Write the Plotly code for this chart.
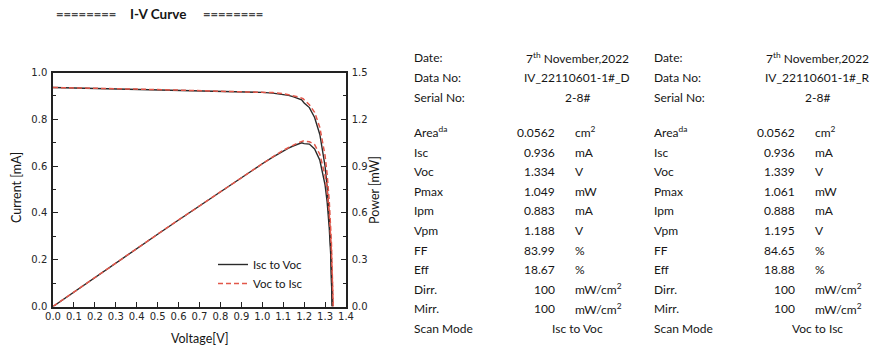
import plotly.graph_objects as go

W, H = 872, 347

# ---- measured data: forward scan (Isc -> Voc) ----
v_fwd = [0.0, 0.1, 0.2, 0.3, 0.4, 0.5, 0.6, 0.7, 0.8, 0.9, 1.0, 1.05, 1.1, 1.125,
         1.15, 1.175, 1.188, 1.2, 1.225, 1.25, 1.275, 1.3, 1.31, 1.32, 1.327, 1.334]
i_fwd = [0.936, 0.934, 0.932, 0.930, 0.928, 0.926, 0.924, 0.922, 0.920, 0.918, 0.915,
         0.912, 0.907, 0.902, 0.896, 0.888, 0.883, 0.870, 0.850, 0.808, 0.735, 0.600,
         0.510, 0.380, 0.250, 0.0]
p_fwd = [0.0, 0.0934, 0.1864, 0.279, 0.3712, 0.463, 0.5544, 0.6454, 0.736, 0.8262, 0.915,
         0.9576, 0.9977, 1.0148, 1.0304, 1.0434, 1.049, 1.044, 1.0413, 1.010, 0.9371,
         0.780, 0.6681, 0.5016, 0.3318, 0.0]

# ---- measured data: reverse scan (Voc -> Isc) ----
v_rev = [0.0, 0.1, 0.2, 0.3, 0.4, 0.5, 0.6, 0.7, 0.8, 0.9, 1.0, 1.05, 1.1, 1.125,
         1.15, 1.175, 1.195, 1.225, 1.25, 1.275, 1.3, 1.31, 1.32, 1.33, 1.339]
i_rev = [0.936, 0.935, 0.933, 0.931, 0.929, 0.927, 0.925, 0.923, 0.921, 0.919, 0.917,
         0.914, 0.910, 0.906, 0.901, 0.895, 0.888, 0.862, 0.830, 0.765, 0.645, 0.565,
         0.450, 0.280, 0.0]
p_rev = [0.0, 0.0935, 0.1866, 0.2793, 0.3716, 0.4635, 0.555, 0.6461, 0.7368, 0.8271,
         0.917, 0.9597, 1.001, 1.0193, 1.0362, 1.0516, 1.061, 1.056, 1.0375, 0.9754,
         0.8385, 0.7402, 0.594, 0.3724, 0.0]

series_names = ["Isc to Voc", "Voc to Isc"]

# ---- parameter tables ----
row_labels = ["Date:", "Data No:", "Serial No:", "Area<sup>da</sup>", "Isc", "Voc", "Pmax",
              "Ipm", "Vpm", "FF", "Eff", "Dirr.", "Mirr.", "Scan Mode"]
header_fwd = ["7<sup>th</sup> November,2022", "IV_22110601-1#_D", "2-8#"]
header_rev = ["7<sup>th</sup> November,2022", "IV_22110601-1#_R", "2-8#"]
values_fwd = ["0.0562", "0.936", "1.334", "1.049", "0.883", "1.188", "83.99", "18.67", "100", "100"]
values_rev = ["0.0562", "0.936", "1.339", "1.061", "0.888", "1.195", "84.65", "18.88", "100", "100"]
units = ["cm<sup>2</sup>", "mA", "V", "mW", "mA", "V", "%", "%", "mW/cm<sup>2</sup>", "mW/cm<sup>2</sup>"]
scan_modes = ["Isc to Voc", "Voc to Isc"]

BLACK = "#2a2a2a"
RED = "#e2574a"
TXT = "#161616"
LAB_FONT = "Lato"
TICK_FONT = dict(family="DejaVu Sans", size=10, color="#262626")

fig = go.Figure()

fig.add_trace(go.Scatter(x=v_fwd, y=i_fwd, mode="lines", name=series_names[0],
                         line=dict(color=BLACK, width=1.4)))
fig.add_trace(go.Scatter(x=v_fwd, y=p_fwd, mode="lines", name=series_names[0], yaxis="y2",
                         showlegend=False, line=dict(color=BLACK, width=1.4)))
fig.add_trace(go.Scatter(x=v_rev, y=i_rev, mode="lines", name=series_names[1],
                         line=dict(color=RED, width=1.5, dash="5px,3px")))
fig.add_trace(go.Scatter(x=v_rev, y=p_rev, mode="lines", name=series_names[1], yaxis="y2",
                         showlegend=False, line=dict(color=RED, width=1.5, dash="5px,3px")))

# plot area in pixels
x0, x1 = 53, 346
y_top, y_bot = 72.5, 306.5


def px(x):
    return x / W


def py(y):
    return 1 - y / H


axis_common = dict(showline=True, linecolor="#222222", linewidth=1.5, ticks="inside",
                   ticklen=5, tickwidth=1.2, tickcolor="#222222", showgrid=False,
                   zeroline=False, tickfont=TICK_FONT, automargin=False)

fig.update_layout(
    width=W, height=H,
    margin=dict(l=0, r=0, t=0, b=0),
    paper_bgcolor="white", plot_bgcolor="white",
    xaxis=dict(domain=[px(x0), px(x1)], range=[0, 1.4], tick0=0, dtick=0.1,
               tickformat=".1f", mirror=True, ticklabelstandoff=0, **axis_common),
    yaxis=dict(domain=[py(y_bot), py(y_top)], range=[0, 1.0], tick0=0, dtick=0.2,
               tickformat=".1f", ticklabelstandoff=2,
               minor=dict(ticks="inside", ticklen=3, dtick=0.1, tickcolor="#222222"),
               **axis_common),
    yaxis2=dict(overlaying="y", side="right", range=[0, 1.5], tick0=0, dtick=0.3,
                tickformat=".1f", ticklabelstandoff=2,
                minor=dict(ticks="inside", ticklen=3, dtick=0.15, tickcolor="#222222"),
                **axis_common),
    legend=dict(x=px(213), y=py(250), xanchor="left", yanchor="top",
                bgcolor="rgba(0,0,0,0)", font=dict(family=LAB_FONT, size=11.5, color=TXT),
                tracegroupgap=0, itemwidth=30),
    showlegend=True,
)

ann = []


def text(x, y, s, anchor="left", size=12, color=TXT, bold=False, angle=0):
    ann.append(dict(x=px(x), y=py(y), xref="paper", yref="paper", text=f"<b>{s}</b>" if bold else s,
                    showarrow=False, xanchor=anchor, yanchor="middle", textangle=angle,
                    font=dict(family=LAB_FONT, size=size, color=color)))


# title line
text(54, 14, "========", size=13, color="#444444", bold=True)
text(128, 14, "I-V Curve", size=13.5, bold=True)
text(201, 14, "========", size=13, color="#444444", bold=True)

# axis titles
text(200, 338, "Voltage[V]", anchor="center", size=12.5)
text(17, 188, "Current [mA]", anchor="center", size=12.5, angle=-90)
text(375, 190, "Power [mW]", anchor="center", size=12.5, angle=-90)

# parameter tables
row_y = [57.5, 77.5, 97.5, 132.5, 152, 171.5, 191, 210.5, 230, 250, 269.5, 289, 308.5, 328]
for k, (lx, num_r, unit_l, mid) in enumerate([(412, 557, 573, 577), (652, 797, 813, 817)]):
    head = header_fwd if k == 0 else header_rev
    vals = values_fwd if k == 0 else values_rev
    for r, lab in enumerate(row_labels):
        text(lx, row_y[r], lab)
    for r in range(3):
        text(mid, row_y[r], head[r], anchor="center")
    for r in range(10):
        text(num_r, row_y[3 + r], vals[r], anchor="right")
        text(unit_l, row_y[3 + r], units[r])
    text(mid, row_y[13], scan_modes[k], anchor="center")

fig.update_layout(annotations=ann)

fig.write_html("out.html")
